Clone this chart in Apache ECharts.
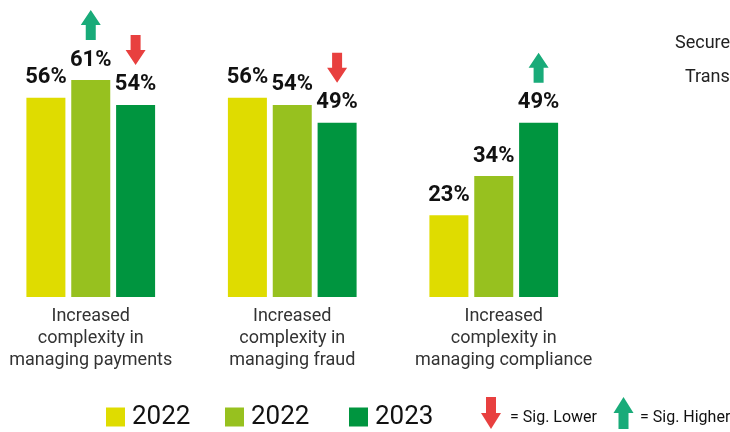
<!DOCTYPE html>
<html><head><meta charset="utf-8">
<script src="https://cdn.jsdelivr.net/npm/echarts@6/dist/echarts.min.js"></script>
<style>html,body{margin:0;padding:0;background:#fff}#c{width:730px;height:432px}</style>
</head><body><div id="c"></div>
<script>
const categories = ['Increased\ncomplexity in\nmanaging payments', 'Increased\ncomplexity in\nmanaging fraud', 'Increased\ncomplexity in\nmanaging compliance'];
const seriesKeys = ['2022a', '2022b', '2023'];
const legendLabels = {'2022a': '2022', '2022b': '2022', '2023': '2023'};
const values2022a = [56, 56, 23];
const values2022b = [61, 54, 34];
const values2023 = [54, 49, 49];
const sig2022a = [null, null, null];
const sig2022b = ['up', null, null];
const sig2023 = ['down', 'down', 'up'];
const sigLegendTexts = ['= Sig. Lower', '= Sig. Higher'];
const sideTexts = ['Secure', 'Trans'];

const colors = ['#DFDC00', '#97C11F', '#00953F'];
const RED = '#E8403F', GREEN = '#19AB79';
const FONT = 'Roboto';
const UP = 'path://M10,0 L20,15 L15,15 L15,30 L5,30 L5,15 L0,15 Z';
const DOWN = 'path://M5,0 L15,0 L15,15 L20,15 L10,30 L0,15 L5,15 Z';

function marks(vals, sig) {
  const d = [];
  sig.forEach((s, i) => {
    if (s) d.push({coord: [i, vals[i]], symbol: s === 'up' ? UP : DOWN, itemStyle: {color: s === 'up' ? GREEN : RED}});
  });
  return d;
}
const allVals = [values2022a, values2022b, values2023];
const allSig = [sig2022a, sig2022b, sig2023];

const series = seriesKeys.map((k, si) => ({
  name: k, type: 'bar', barWidth: 39, barGap: '15%',
  data: allVals[si],
  itemStyle: {color: colors[si]},
  label: {show: true, position: 'top', distance: 9, formatter: '{c}%', fontSize: 22, fontWeight: 'bold', color: '#111', fontFamily: FONT},
  markPoint: {
    symbolSize: [20, 30], symbolOffset: [0, -55], silent: true, animation: false,
    label: {show: false},
    data: marks(allVals[si], allSig[si])
  }
}));

const legendLefts = [106, 225, 349];
const legends = seriesKeys.map((k, i) => ({
  data: [k], left: legendLefts[i], top: 404, padding: 0,
  itemWidth: 19, itemHeight: 19, icon: 'rect', selectedMode: false,
  formatter: n => legendLabels[n],
  textStyle: {fontSize: 26, color: '#111', fontFamily: FONT, padding: [0, 0, 0, 2]}
}));

function arrowPts(cx, top, up) {
  const h = 32, hh = 16, hw = 10, sw = 5;
  if (up) return [[cx, top], [cx + hw, top + hh], [cx + sw, top + hh], [cx + sw, top + h], [cx - sw, top + h], [cx - sw, top + hh], [cx - hw, top + hh]];
  return [[cx - sw, top], [cx + sw, top], [cx + sw, top + h - hh], [cx + hw, top + h - hh], [cx, top + h], [cx - hw, top + h - hh], [cx - sw, top + h - hh]];
}

const chart = echarts.init(document.getElementById('c'), null, {renderer: 'canvas'});
chart.setOption({
  animation: false,
  grid: {left: -10, width: 604.5, top: 0, height: 297, containLabel: false, outerBoundsMode: 'none'},
  xAxis: {
    type: 'category', data: categories,
    axisLine: {show: false}, axisTick: {show: false},
    axisLabel: {
      margin: 8, fontSize: 18, lineHeight: 22, color: '#333', fontFamily: FONT, interval: 0,
      formatter: (v, idx) => idx === 2 ? v.split('\n').map(l => '{s|' + l + '}').join('\n') : v,
      rich: {s: {padding: [0, 0, 0, 20], fontSize: 18, lineHeight: 22, color: '#333', fontFamily: FONT}}
    }
  },
  yAxis: {type: 'value', min: 0, max: 83.5, show: false, splitLine: {show: false}},
  legend: legends,
  series: series,
  graphic: [
    {type: 'polygon', shape: {points: arrowPts(491, 397, false)}, style: {fill: RED}},
    {type: 'text', left: 510, top: 410, style: {text: sigLegendTexts[0], fontSize: 16, fill: '#111', fontFamily: FONT}},
    {type: 'polygon', shape: {points: arrowPts(623.5, 397, true)}, style: {fill: GREEN}},
    {type: 'text', left: 640, top: 410, style: {text: sigLegendTexts[1], fontSize: 16, fill: '#111', fontFamily: FONT}},
    {type: 'text', x: 675, y: 34, style: {text: sideTexts[0], fontSize: 18, fill: '#222', fontFamily: FONT}},
    {type: 'text', x: 685, y: 68, style: {text: sideTexts[1], fontSize: 18, fill: '#222', fontFamily: FONT}}
  ]
});
</script></body></html>
